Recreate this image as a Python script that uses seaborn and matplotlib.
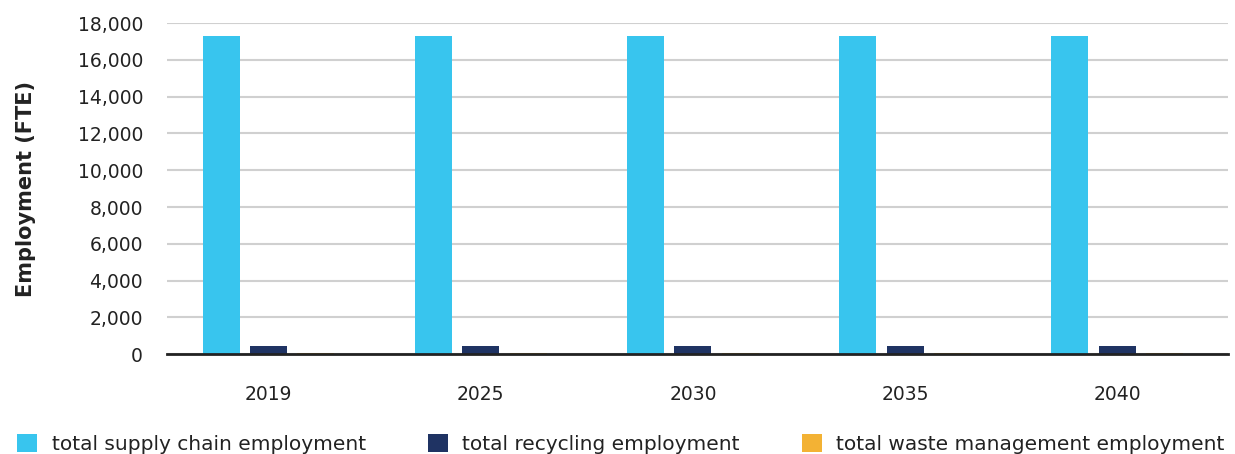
import matplotlib
matplotlib.use("Agg")
import matplotlib.pyplot as plt
import seaborn as sns
import pandas as pd
from matplotlib.ticker import FuncFormatter, MultipleLocator

years = ["2019", "2025", "2030", "2035", "2040"]
supply_chain = [17300, 17300, 17300, 17300, 17300]
recycling = [420, 420, 420, 420, 420]
waste_management = [40, 40, 40, 40, 40]
series_names = ["total supply chain employment",
                "total recycling employment",
                "total waste management employment"]
colors = ["#38C5EE", "#1F3363", "#F3B234"]

df = pd.DataFrame({
    "year": years * 3,
    "value": supply_chain + recycling + waste_management,
    "series": [s for s in series_names for _ in years],
})

sns.set_theme(style="white")
plt.rcParams["font.family"] = ["DejaVu Sans"]

fig = plt.figure(figsize=(12.35, 4.54), dpi=100)
ax = fig.add_axes([0.135, 0.22, 0.859, 0.729])

sns.barplot(data=df, x="year", y="value", hue="series", order=years,
            hue_order=series_names, palette=colors, width=0.67, gap=0.22,
            errorbar=None, ax=ax, legend=True, saturation=1, linewidth=0)

ax.set_ylim(0, 18000)
ax.set_xlim(-0.48, 4.52)
ax.yaxis.set_major_locator(MultipleLocator(2000))
ax.yaxis.set_major_formatter(FuncFormatter(lambda v, p: f"{int(v):,}"))
ax.grid(axis="y", color="#D0D0D0", linewidth=1.5)
ax.set_axisbelow(True)
for s in ["top", "right", "left"]:
    ax.spines[s].set_visible(False)
ax.spines["bottom"].set_color("#222222")
ax.spines["bottom"].set_linewidth(2)
ax.spines["bottom"].set_zorder(5)
ax.tick_params(axis="both", length=0, labelsize=13.5, colors="#222222")
ax.tick_params(axis="x", pad=22)
ax.tick_params(axis="y", pad=17)
ax.set_xlabel("")
ax.set_ylabel("Employment (FTE)", fontsize=15, fontweight="bold",
              color="#222222", labelpad=30)

handles, labels = ax.get_legend_handles_labels()
ax.get_legend().remove()
fig.legend(handles, labels, loc="lower left", bbox_to_anchor=(0.014, 0.0),
           ncol=3, frameon=False, fontsize=14.5, handlelength=1.0,
           handleheight=1.0, handletextpad=0.7, columnspacing=3.1,
           borderaxespad=0, borderpad=0, labelcolor="#222222")

fig.savefig("out.png", dpi=100)
